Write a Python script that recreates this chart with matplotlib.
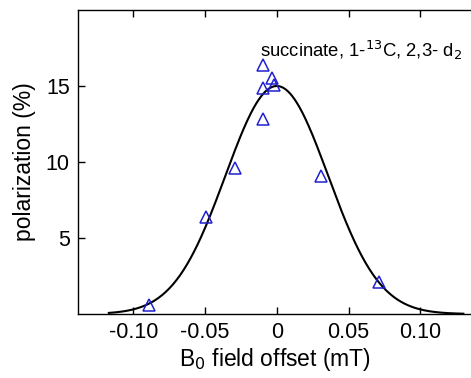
import matplotlib
matplotlib.use('Agg')
import matplotlib.pyplot as plt
import numpy as np

# measured points (triangles)
field_offset = [-0.0893, -0.0492, -0.0294, -0.0096, -0.0096, -0.0096, -0.0030, -0.0020, 0.0306, 0.0709]
polarization = [0.61, 6.36, 9.6, 12.8, 14.85, 16.4, 15.5, 15.07, 9.08, 2.13]

# gaussian fit parameters
FIT_AMP = 15.0
FIT_CENTER = 0.0
FIT_SIGMA = 0.0358
FIT_RANGE = (-0.117, 0.13)

x_ticks = [-0.10, -0.05, 0, 0.05, 0.10]
x_tick_labels = ['-0.10', '-0.05', '0', '0.05', '0.10']
y_ticks = [5, 10, 15]

plt.rcParams['font.family'] = ['Liberation Sans', 'DejaVu Sans']

fig = plt.figure(figsize=(4.71, 3.78), dpi=100)
ax = fig.add_axes([78 / 471, 1 - 314 / 378, 1 - 78 / 471 + 0.002, (314 - 10) / 378])

xf = np.linspace(FIT_RANGE[0], FIT_RANGE[1], 400)
yf = FIT_AMP * np.exp(-(xf - FIT_CENTER) ** 2 / (2 * FIT_SIGMA ** 2))
ax.plot(xf, yf, color='black', lw=1.5, zorder=2)
ax.plot(field_offset, polarization, linestyle='none', marker='^', ms=8,
        mfc='none', mec='#2020d0', mew=1.1, zorder=3)

ax.set_xlim(-0.1385, 0.136)
ax.set_ylim(0, 20)
ax.set_xticks(x_ticks)
ax.set_xticklabels(x_tick_labels)
ax.set_yticks(y_ticks)
ax.tick_params(direction='in', length=5, width=1, labelsize=15.5, top=True, right=False, pad=6)
ax.spines['right'].set_visible(False)
for s in ['left', 'bottom', 'top']:
    ax.spines[s].set_linewidth(1)

ax.set_xlabel('B$_0$ field offset (mT)', fontsize=16.5, labelpad=2)
ax.set_ylabel('polarization (%)', fontsize=16.5, labelpad=7)
ax.text(0.463, 0.868, 'succinate, 1-$^{13}$C, 2,3- d$_2$', transform=ax.transAxes,
        ha='left', va='center', fontsize=13.3)

fig.savefig('out.png', dpi=100)
